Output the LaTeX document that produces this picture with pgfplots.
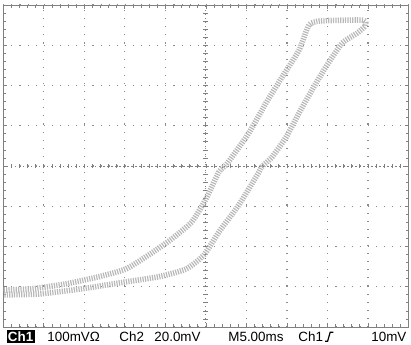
\documentclass[border=0pt]{standalone}
\usepackage{fontspec}
\setmainfont{Liberation Sans}
\usepackage{pgfplots}
\pgfplotsset{compat=1.18}
\begin{document}
\begin{tikzpicture}
\path[use as bounding box] (0,0) rectangle (205.5pt,172pt);
\begin{axis}[at={(1.65pt,8.5pt)}, anchor=south west, scale only axis,
 width=202.6pt, height=161pt,
 xmin=-5, xmax=5, ymin=-4, ymax=4,
 xtick={-5,...,5}, ytick={-4,...,4}, xticklabels={}, yticklabels={},
 minor x tick num=4, minor y tick num=4,
 tick align=inside, major tick length=2pt, minor tick length=1.5pt,
 tick style={black!50, line width=0.4pt},
 xtick pos=both, ytick pos=both,
 grid=major,
 major grid style={black!45, line width=0.55pt, dash pattern=on 0.55pt off 3.5pt},
 axis line style={black!50, line width=0.5pt},
 clip=false]
% centre crosshair
\draw[black!50, line width=0.5pt, dash pattern=on 0.6pt off 1.4pt] (axis cs:-5,0) -- (axis cs:5,0);
\draw[black!50, line width=0.5pt, dash pattern=on 0.6pt off 1.4pt] (axis cs:0,-4) -- (axis cs:0,4);
\pgfplotsinvokeforeach{-4.8,-4.6,...,4.81}{
  \draw[black!50, line width=0.4pt] (axis cs:#1,-0.06) -- (axis cs:#1,0.06);
}
\pgfplotsinvokeforeach{-3.8,-3.6,...,3.81}{
  \draw[black!50, line width=0.4pt] (axis cs:-0.06,#1) -- (axis cs:0.06,#1);
}
% hysteresis loop
\addplot[black!28, line width=2.8pt, dash pattern=on 0.6pt off 0.6pt, smooth, tension=0.35] coordinates {
(-4.99,-3.08) (-4.30,-3.05) (-3.46,-2.93) (-2.64,-2.75) (-1.98,-2.56) (-1.41,-2.21)
(-0.84,-1.81) (-0.35,-1.39) (0,-0.82) (0.32,-0.15) (0.49,0.02) (0.64,0.22)
(1.06,0.82) (1.48,1.56) (1.88,2.21) (2.30,2.88) (2.54,3.50) (2.79,3.60)
(3.28,3.62) (3.90,3.62) (3.93,3.48) (3.73,3.30) (3.36,3.05) (2.96,2.46)
(2.62,1.89) (2.30,1.32) (1.98,0.72) (1.63,0.22) (1.38,-0.02) (1.31,-0.15)
(0.81,-0.97) (0.32,-1.64) (-0.05,-2.21) (-0.49,-2.56) (-1.16,-2.75) (-1.98,-2.88)
(-3.06,-3.05) (-4.12,-3.18) (-4.99,-3.20)
};
% trigger marker
\fill[black] (axis cs:5,0) ++(-3pt,0) -- ++(2.5pt,2pt) -- ++(0,-4pt) -- cycle;
\end{axis}
% status line
\node[anchor=base west, inner sep=0.6pt, fill=black, text=white, font=\fontsize{6.7}{8}\selectfont\bfseries] at (3.2pt,1.4pt) {Ch1};
\begin{scope}[every node/.style={anchor=base west, inner sep=0pt, font=\fontsize{6.7}{8}\selectfont}]
\node at (23.5pt,1.25pt) {100mVΩ};
\node at (59.5pt,1.25pt) {Ch2};
\node at (77pt,1.25pt) {20.0mV};
\node at (114pt,1.25pt) {M5.00ms};
\node at (149pt,1.25pt) {Ch1};
\node at (185.5pt,1.25pt) {10mV};
\end{scope}
\draw[line width=0.6pt] (162.5pt,1.4pt) -- (163.8pt,1.4pt) -- (165.1pt,5.9pt) -- (166.7pt,5.9pt);
\end{tikzpicture}
\end{document}
